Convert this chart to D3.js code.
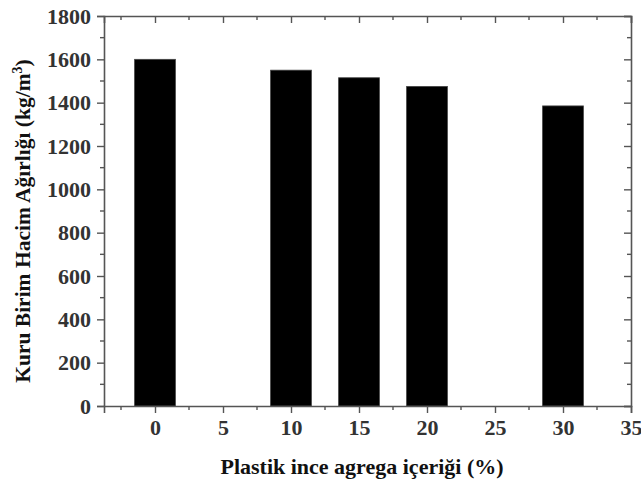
<!DOCTYPE html>
<html>
<head>
<meta charset="utf-8">
<script src="https://cdn.jsdelivr.net/npm/d3@7"></script>
<style>
  body { margin: 0; background: #fff; }
  svg { display: block; }
  text { font-family: "Liberation Serif", "Times New Roman", serif; }
</style>
</head>
<body>
<svg id="chart"></svg>
<script>
// plastic fine aggregate content (%) and dry unit weight (kg/m3)
const categories = [0, 10, 15, 20, 30];
const values = [1600, 1550, 1515, 1475, 1385];
const xTicks = [0, 5, 10, 15, 20, 25, 30, 35];
const yTicks = [0, 200, 400, 600, 800, 1000, 1200, 1400, 1600, 1800];

const W = 641, H = 484;
const margin = { top: 16, right: 10, bottom: 78, left: 104 };
const width = W - margin.left - margin.right;
const height = H - margin.top - margin.bottom;

const svg = d3.select('#chart').attr('width', W).attr('height', H);
const g = svg.append('g').attr('transform', `translate(${margin.left},${margin.top})`);

const x = d3.scaleLinear().domain([-3.75, 35]).range([0, width]);
const y = d3.scaleLinear().domain([0, 1800]).range([height, 0]);
const barW = x(1.5) - x(-1.5);

// bars
g.selectAll('.bar').data(categories).enter().append('rect')
  .attr('class', 'bar')
  .attr('x', d => x(d) - barW / 2)
  .attr('y', (d, i) => y(values[i]))
  .attr('width', barW)
  .attr('height', (d, i) => y(0) - y(values[i]))
  .attr('fill', '#000')
  .attr('stroke', '#444')
  .attr('stroke-width', 0.8);

const axisColor = '#555';
const minorX = d3.range(-2.5, 35, 2.5).filter(v => v % 5 !== 0);
const minorY = d3.range(100, 1800, 200);

// bottom axis, ticks out
const axBottom = g.append('g').attr('transform', `translate(0,${height})`)
  .call(d3.axisBottom(x).tickValues(xTicks).tickSize(7).tickPadding(6).tickFormat(d3.format('d')));
axBottom.append('g').selectAll('line').data(minorX).enter().append('line')
  .attr('x1', d => x(d)).attr('x2', d => x(d)).attr('y1', 0).attr('y2', 4);

// top axis, ticks in
const axTop = g.append('g')
  .call(d3.axisBottom(x).tickValues(xTicks).tickSize(7).tickFormat(''));
axTop.append('g').selectAll('line').data(minorX).enter().append('line')
  .attr('x1', d => x(d)).attr('x2', d => x(d)).attr('y1', 0).attr('y2', 4);

// left axis, ticks out
const axLeft = g.append('g')
  .call(d3.axisLeft(y).tickValues(yTicks).tickSize(7).tickPadding(6).tickFormat(d3.format('d')));
axLeft.append('g').selectAll('line').data(minorY).enter().append('line')
  .attr('y1', d => y(d)).attr('y2', d => y(d)).attr('x1', 0).attr('x2', -4);

// right axis, ticks in
const axRight = g.append('g').attr('transform', `translate(${width},0)`)
  .call(d3.axisLeft(y).tickValues(yTicks).tickSize(7).tickFormat(''));
axRight.append('g').selectAll('line').data(minorY).enter().append('line')
  .attr('y1', d => y(d)).attr('y2', d => y(d)).attr('x1', 0).attr('x2', -4);

[axBottom, axTop, axLeft, axRight].forEach(a => {
  a.selectAll('path.domain').attr('stroke', axisColor).attr('stroke-width', 1.6);
  a.selectAll('line').attr('stroke', axisColor).attr('stroke-width', 1.4);
  a.selectAll('text').attr('font-size', 22).attr('font-weight', 'bold').attr('fill', '#333')
    .style('font-family', '"Liberation Serif", serif');
});

// axis titles
svg.append('text')
  .attr('x', 362).attr('y', 474)
  .attr('text-anchor', 'middle')
  .attr('font-size', 22).attr('font-weight', 'bold').attr('fill', '#111')
  .text('Plastik ince agrega içeriği (%)');

const yt = svg.append('text')
  .attr('transform', 'translate(30,221) rotate(-90)')
  .attr('text-anchor', 'middle')
  .attr('font-size', 21.5).attr('font-weight', 'bold').attr('fill', '#111');
yt.append('tspan').text('Kuru Birim Hacim Ağırlığı (kg/m');
yt.append('tspan').attr('dy', -8).attr('font-size', 14).text('3');
yt.append('tspan').attr('dy', 8).text(')');
</script>
</body>
</html>
